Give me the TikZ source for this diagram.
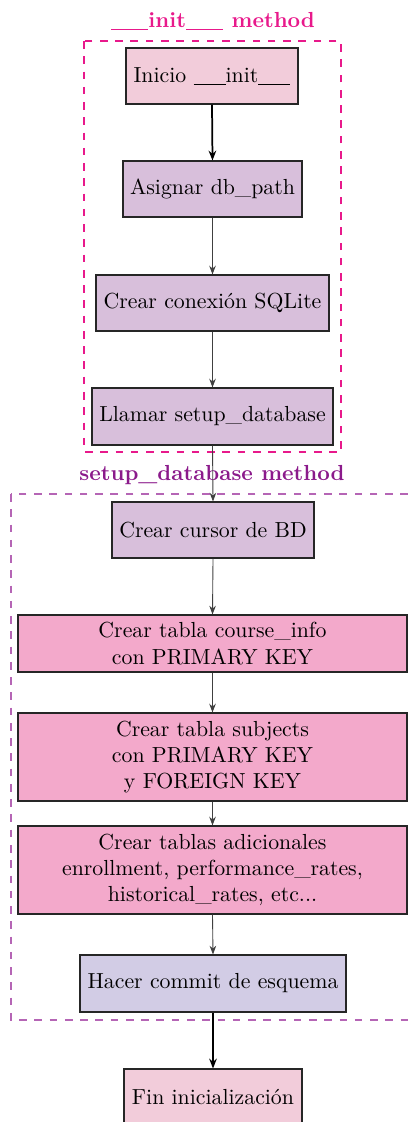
\documentclass[tikz,border=0pt]{standalone}
\usetikzlibrary{arrows.meta}
\definecolor{cstart}{HTML}{F2CCDA}
\definecolor{cproc}{HTML}{D8BFDB}
\definecolor{ctable}{HTML}{F3A9CB}
\definecolor{ccommit}{HTML}{D2CCE5}
\definecolor{cinitframe}{HTML}{E8198B}
\definecolor{csetupframe}{HTML}{B565B5}
\definecolor{csetuptitle}{HTML}{8B1A8B}
\def\pxu{0.4587pt}
\newcommand{\usc}{\leavevmode\rule[-1.3pt]{4.9pt}{0.4pt}}
\newcommand{\uscb}{\leavevmode\rule[-1.3pt]{5.7pt}{0.6pt}}
\tikzset{
  box/.style={draw=black!85, line width=0.5pt, align=center, inner sep=2pt, font=\normalsize},
  thinarrow/.style={-{Stealth[length=4pt,width=3pt]}, line width=0.4pt, draw=black!75},
  thickarrow/.style={-{Stealth[length=4.5pt,width=3.5pt]}, line width=0.8pt, draw=black},
  frame/.style={dashed, dash pattern=on 3.5pt off 3.5pt, line width=0.7pt},
  frametitle/.style={font=\bfseries\normalsize}
}
\begin{document}
\begin{tikzpicture}[x=\pxu, y=-\pxu]
\useasboundingbox (0,0) rectangle (409,1122);
% frames
\draw[frame, cinitframe] (84,41) rectangle (341,452);
\draw[frame, csetupframe] (11,494) rectangle (416,1020);
\node[frametitle, text=cinitframe] (tinit) at (213,21) {\uscb\uscb\uscb init\uscb\uscb\uscb\ method};
\node[frametitle, text=csetuptitle] (tsetup) at (212,475) {setup\_database method};
% nodes
\node[box, fill=cstart, minimum width=172*\pxu, minimum height=56*\pxu] (n1) at (212,76) {Inicio \usc\usc\usc init\usc\usc\usc};
\node[box, fill=cproc, minimum width=179*\pxu, minimum height=56*\pxu] (n2) at (212.5,189) {Asignar db\_path};
\node[box, fill=cproc, minimum width=233*\pxu, minimum height=56*\pxu] (n3) at (212.5,303) {Crear conexión SQLite};
\node[box, fill=cproc, minimum width=241*\pxu, minimum height=57*\pxu] (n4) at (212.5,416.5) {Llamar setup\_database};
\node[box, fill=cproc, minimum width=202*\pxu, minimum height=56*\pxu] (n5) at (213,530) {Crear cursor de BD};
\node[box, fill=ctable, minimum width=389*\pxu, minimum height=57*\pxu] (n6) at (212.5,643.5) {Crear tabla course\_info\\con PRIMARY KEY};
\node[box, fill=ctable, minimum width=389*\pxu, minimum height=88*\pxu] (n7) at (212.5,757) {Crear tabla subjects\\con PRIMARY KEY\\y FOREIGN KEY};
\node[box, fill=ctable, minimum width=389*\pxu, minimum height=88*\pxu] (n8) at (212.5,870) {Crear tablas adicionales\\enrollment, performance\_rates,\\historical\_rates, etc...};
\node[box, fill=ccommit, minimum width=266*\pxu, minimum height=57*\pxu] (n9) at (213,983.5) {Hacer commit de esquema};
\node[box, fill=cstart, minimum width=178*\pxu, minimum height=56*\pxu] (n10) at (213,1097) {Fin inicialización};
% arrows
\draw[thickarrow] (n1.south) -- (n2.north);
\draw[thinarrow] (n2.south) -- (n3.north);
\draw[thinarrow] (n3.south) -- (n4.north);
\draw[thinarrow] (n4.south) -- (n5.north);
\draw[thinarrow] (n5.south) -- (n6.north);
\draw[thinarrow] (n6.south) -- (n7.north);
\draw[thinarrow] (n7.south) -- (n8.north);
\draw[thinarrow] (n8.south) -- (n9.north);
\draw[thickarrow] (n9.south) -- (n10.north);
\end{tikzpicture}
\end{document}
